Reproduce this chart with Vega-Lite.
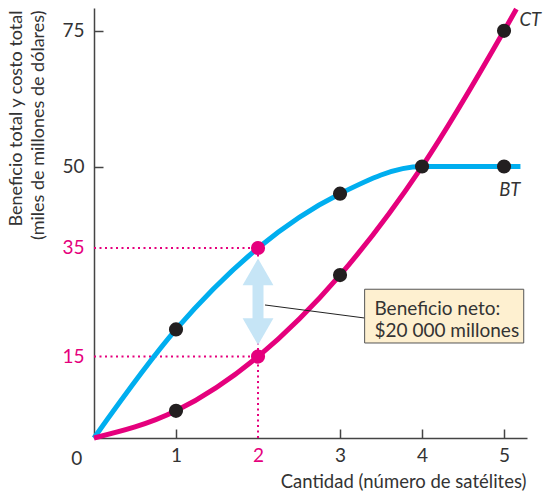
{
  "$schema": "https://vega.github.io/schema/vega-lite/v6.json",
  "autosize": "none",
  "width": 433,
  "height": 430,
  "padding": {"left": 94, "top": 8, "right": 25, "bottom": 56},
  "background": "white",
  "config": {"view": {"stroke": null}, "font": "Lato"},
  "datasets": {
    "bt": [{"q": 0, "v": 0}, {"q": 1, "v": 20}, {"q": 2, "v": 35}, {"q": 3, "v": 45}, {"q": 4, "v": 50}, {"q": 5, "v": 50}, {"q": 5.2, "v": 50}],
    "ct": [{"q": 0, "v": 0}, {"q": 1, "v": 5}, {"q": 2, "v": 15}, {"q": 3, "v": 30}, {"q": 4, "v": 50}, {"q": 5, "v": 75}, {"q": 5.15, "v": 79}],
    "black": [{"q": 1, "v": 20}, {"q": 3, "v": 45}, {"q": 4, "v": 50}, {"q": 5, "v": 50}, {"q": 1, "v": 5}, {"q": 3, "v": 30}, {"q": 5, "v": 75}],
    "pinkpts": [{"q": 2, "v": 35}, {"q": 2, "v": 15}],
    "dotted": [{"q": 0, "v": 35, "q2": 2, "v2": 35}, {"q": 0, "v": 15, "q2": 2, "v2": 15}, {"q": 2, "v": 0, "q2": 2, "v2": 35}]
  },
  "layer": [
    {
      "data": {"name": "dotted"},
      "mark": {"type": "rule", "color": "#E5007D", "strokeWidth": 2, "strokeDash": [2, 3.5]},
      "encoding": {
        "x": {"field": "q", "type": "quantitative", "scale": {"domain": [0, 5.28], "nice": false, "zero": false},
          "axis": {
            "values": [1, 2, 3, 4, 5], "format": "d",
            "title": "Cantidad (número de satélites)",
            "titleFont": "Lato", "titleFontSize": 18.5, "titleFontWeight": "normal", "titleColor": "#333",
            "titleAnchor": "end", "titleAlign": "right", "titleBaseline": "middle", "titleX": 432, "titleY": 43,
            "labelFont": "Lato", "labelFontSize": 19, "labelPadding": 17,
            "labelColor": {"condition": {"test": "datum.value === 2", "value": "#E5007D"}, "value": "#333"},
            "tickColor": {"condition": {"test": "datum.value === 2", "value": "transparent"}, "value": "#444"},
            "tickSize": -9, "tickWidth": 1.5,
            "domainColor": "#444", "domainWidth": 1.5, "grid": false
          }
        },
        "x2": {"field": "q2"},
        "y": {"field": "v", "type": "quantitative", "scale": {"domain": [0, 79.2], "nice": false},
          "axis": {
            "values": [15, 35, 50, 75],
            "title": ["Beneficio total y costo total", "(miles de millones de dólares)"],
            "titleFont": "Lato", "titleFontSize": 18, "titleFontWeight": "normal", "titleColor": "#333",
            "titleAngle": -90, "titleAlign": "right", "titleBaseline": "top", "titleX": -87, "titleY": 2, "titleLineHeight": 22,
            "labelFont": "Lato", "labelFontSize": 19, "labelPadding": 19,
            "labelColor": {"condition": {"test": "datum.value === 15 || datum.value === 35", "value": "#E5007D"}, "value": "#333"},
            "tickColor": {"condition": {"test": "datum.value === 15 || datum.value === 35", "value": "transparent"}, "value": "#444"},
            "tickSize": -9, "tickWidth": 1.5,
            "domainColor": "#444", "domainWidth": 1.5, "grid": false
          }
        },
        "y2": {"field": "v2"}
      }
    },
    {
      "data": {"name": "bt"},
      "mark": {"type": "line", "color": "#00AEEF", "strokeWidth": 5, "interpolate": "monotone"},
      "encoding": {"x": {"field": "q", "type": "quantitative"}, "y": {"field": "v", "type": "quantitative"}}
    },
    {
      "data": {"name": "ct"},
      "mark": {"type": "line", "color": "#E5007D", "strokeWidth": 5, "interpolate": "monotone"},
      "encoding": {"x": {"field": "q", "type": "quantitative"}, "y": {"field": "v", "type": "quantitative"}}
    },
    {
      "data": {"values": [{"q": 2, "v": 30.4, "v2": 19.8}]},
      "mark": {"type": "rule", "color": "#C6E5F6", "strokeWidth": 11},
      "encoding": {"x": {"field": "q", "type": "quantitative"}, "y": {"field": "v", "type": "quantitative"}, "y2": {"field": "v2"}}
    },
    {
      "data": {"values": [{"q": 2, "v": 30.6, "s": "triangle-up"}, {"q": 2, "v": 19.6, "s": "triangle-down"}]},
      "mark": {"type": "point", "filled": true, "color": "#C6E5F6", "opacity": 1, "size": 950},
      "encoding": {
        "x": {"field": "q", "type": "quantitative"}, "y": {"field": "v", "type": "quantitative"},
        "shape": {"field": "s", "type": "nominal", "scale": null, "legend": null}
      }
    },
    {
      "data": {"values": [{"q": 2.085, "v": 24.5, "q2": 3.3, "v2": 22.1}]},
      "mark": {"type": "rule", "color": "#222", "strokeWidth": 1},
      "encoding": {"x": {"field": "q", "type": "quantitative"}, "y": {"field": "v", "type": "quantitative"}, "x2": {"field": "q2"}, "y2": {"field": "v2"}}
    },
    {
      "data": {"values": [{"q": 3.3, "v": 27.4, "q2": 5.24, "v2": 17.5}]},
      "mark": {"type": "rect", "fill": "#FEF0D0", "stroke": "#555", "strokeWidth": 1},
      "encoding": {"x": {"field": "q", "type": "quantitative"}, "y": {"field": "v", "type": "quantitative"}, "x2": {"field": "q2"}, "y2": {"field": "v2"}}
    },
    {
      "data": {"values": [{"q": 3.42, "v": 22.65, "t": "Beneficio neto:"}, {"q": 3.42, "v": 18.6, "t": "$20 000 millones"}]},
      "mark": {"type": "text", "align": "left", "baseline": "alphabetic", "font": "Lato", "fontSize": 19, "color": "#333"},
      "encoding": {"x": {"field": "q", "type": "quantitative"}, "y": {"field": "v", "type": "quantitative"}, "text": {"field": "t"}}
    },
    {
      "data": {"values": [{"q": 5.32, "v": 75.9, "t": "CT", "a": "left"}, {"q": 5.07, "v": 44.6, "t": "BT", "a": "center"}]},
      "mark": {"type": "text", "baseline": "alphabetic", "font": "Lato", "fontSize": 18.5, "fontStyle": "italic", "color": "#333"},
      "encoding": {"x": {"field": "q", "type": "quantitative"}, "y": {"field": "v", "type": "quantitative"}, "text": {"field": "t"}, "align": {"field": "a", "type": "nominal", "scale": null, "legend": null}}
    },
    {
      "data": {"values": [{"q": -0.21, "v": -5.0, "t": "0"}]},
      "mark": {"type": "text", "align": "center", "baseline": "alphabetic", "font": "Lato", "fontSize": 19, "color": "#333"},
      "encoding": {"x": {"field": "q", "type": "quantitative"}, "y": {"field": "v", "type": "quantitative"}, "text": {"field": "t"}}
    },
    {
      "data": {"name": "black"},
      "mark": {"type": "circle", "color": "#231F20", "opacity": 1, "size": 200},
      "encoding": {"x": {"field": "q", "type": "quantitative"}, "y": {"field": "v", "type": "quantitative"}}
    },
    {
      "data": {"name": "pinkpts"},
      "mark": {"type": "circle", "color": "#E5007D", "opacity": 1, "size": 200},
      "encoding": {"x": {"field": "q", "type": "quantitative"}, "y": {"field": "v", "type": "quantitative"}}
    }
  ]
}
